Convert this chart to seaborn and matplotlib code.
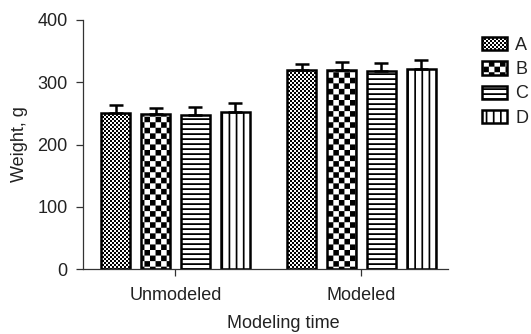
import warnings
import numpy as np
import pandas as pd
import matplotlib
matplotlib.use("Agg")
import matplotlib.pyplot as plt
import matplotlib.hatch as mhatch
from matplotlib.path import Path
import seaborn as sns

warnings.filterwarnings("ignore")

# Body weight by modeling stage and group (mean and SD)
times = ["Unmodeled", "Modeled"]
groups = ["A", "B", "C", "D"]
weight_unmodeled = [250, 249, 248, 253]
weight_modeled = [319, 320, 318, 322]
sd_unmodeled = [14, 9, 12, 13]
sd_modeled = [10, 12, 13, 14]
y_ticks = [0, 100, 200, 300, 400]


# Filled-rectangle hatch patterns (checkerboards and stripes)
class _RectHatch(mhatch.HatchPatternBase):
    char = None

    def __init__(self, hatch, density):
        self.rects = self.make_rects() if (hatch and self.char in hatch) else []
        self.num_vertices = 5 * len(self.rects)

    def make_rects(self):
        return []

    def set_vertices_and_codes(self, vertices, codes):
        for k, (x0, y0, w, h) in enumerate(self.rects):
            vertices[5 * k:5 * k + 5] = [(x0, y0), (x0 + w, y0), (x0 + w, y0 + h),
                                         (x0, y0 + h), (x0, y0)]
            codes[5 * k:5 * k + 5] = [Path.MOVETO, Path.LINETO, Path.LINETO,
                                      Path.LINETO, Path.CLOSEPOLY]


class FineChecker(_RectHatch):
    char = "c"

    def make_rects(self):
        n = 50
        s = 1.0 / n
        return [(i * s, j * s, s, s) for i in range(n) for j in range(n) if (i + j) % 2 == 0]


class CoarseChecker(_RectHatch):
    char = "k"

    def make_rects(self):
        n = 18
        s = 1.0 / n
        return [(i * s, j * s, s, s) for i in range(n) for j in range(n) if (i + j) % 2 == 0]


class HStripes(_RectHatch):
    char = "h"

    def make_rects(self):
        n, t = 20, 0.018
        return [(0.0, j / n, 1.0, t) for j in range(n)]


class VStripes(_RectHatch):
    char = "v"

    def make_rects(self):
        n, t = 14, 0.017
        return [(j / n, 0.0, t, 1.0) for j in range(n)]


mhatch._hatch_types.extend([FineChecker, CoarseChecker, HStripes, VStripes])
group_hatches = ["c", "k", "h", "v"]

sns.set_style("ticks")
plt.rcParams["font.family"] = ["Liberation Sans", "DejaVu Sans"]
plt.rcParams["hatch.linewidth"] = 0.01
plt.rcParams["hatch.color"] = "black"

df = pd.DataFrame({
    "time": np.repeat(times, len(groups)),
    "group": groups * len(times),
    "weight": weight_unmodeled + weight_modeled,
})
sd_by_group = {g: [sd_unmodeled[i], sd_modeled[i]] for i, g in enumerate(groups)}
mean_by_group = {g: [weight_unmodeled[i], weight_modeled[i]] for i, g in enumerate(groups)}

fig = plt.figure(figsize=(5.31, 3.34), dpi=100)
ax = fig.add_axes([83 / 531, 65 / 334, 365 / 531, 249 / 334])

sns.barplot(data=df, x="time", y="weight", hue="group", order=times,
            hue_order=groups, palette=["white"] * 4, saturation=1,
            edgecolor="black", linewidth=1.8, width=0.854, gap=0.27,
            errorbar=None, legend=False, ax=ax)

bar_containers = list(ax.containers)
for cont, g, h in zip(bar_containers, groups, group_hatches):
    for p in cont.patches:
        p.set_hatch(h)
        p.set_facecolor("white")
        p.set_edgecolor("black")
    xs = [p.get_x() + p.get_width() / 2 for p in cont.patches]
    ax.errorbar(xs, mean_by_group[g], yerr=[[0, 0], sd_by_group[g]], fmt="none",
                ecolor="black", elinewidth=1.8, capsize=4.7, capthick=1.8, zorder=3)

ax.set_ylim(0, 400)
ax.set_yticks(y_ticks)
ax.set_xlim(-0.497, 1.465)
sns.despine(ax=ax)
for side in ["left", "bottom"]:
    ax.spines[side].set_color("#333333")
    ax.spines[side].set_linewidth(0.9)

ax.tick_params(axis="both", direction="out", length=5, width=0.9,
               color="#333333", labelsize=13, labelcolor="#222222")
ax.tick_params(axis="y", pad=6)
ax.tick_params(axis="x", pad=8)
ax.set_ylabel("Weight, g", fontsize=13, color="#222222", labelpad=7)
ax.set_xlabel("Modeling time", fontsize=13, color="#222222")
ax.xaxis.set_label_coords(0.548, -0.183)

ax.legend(handles=bar_containers, labels=groups, loc="upper left",
          bbox_to_anchor=(482 / 531, 1 - 37 / 334), bbox_transform=fig.transFigure,
          frameon=False, fontsize=13, handlelength=1.4, handleheight=0.75,
          handletextpad=0.45, labelspacing=0.4, borderpad=0, borderaxespad=0,
          labelcolor="#222222")

fig.savefig("out.png", dpi=100)
